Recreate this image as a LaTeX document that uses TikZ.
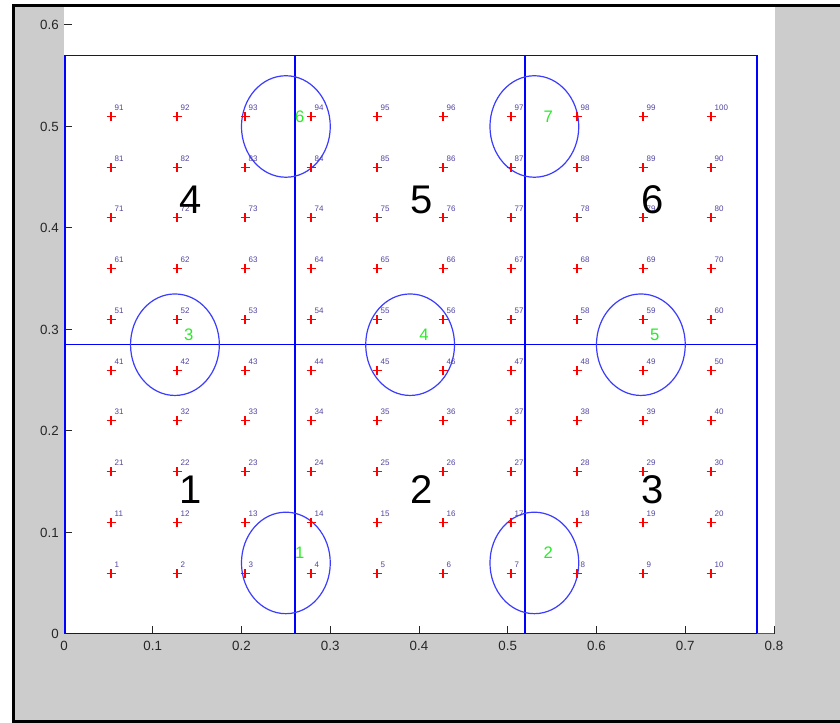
\documentclass[tikz,border=0pt]{standalone}
\usepackage{fontspec}
\setmainfont{Liberation Sans}
\usetikzlibrary{positioning}
\definecolor{figgrey}{RGB}{204,204,204}
\definecolor{lblblue}{RGB}{80,70,160}
\definecolor{ringblue}{RGB}{60,60,255}
\definecolor{taggreen}{RGB}{40,235,40}
\definecolor{markred}{RGB}{255,0,0}

\begin{document}
\begin{tikzpicture}[x=0.75pt, y=0.75pt,
  tickline/.style={line width=0.75pt, black!85},
  ticklbl/.style={inner sep=0pt, font=\fontsize{10}{12}\selectfont, text=black!85},
  part/.style={line width=1pt, blue},
  vpart/.style={line width=1.3pt, blue},
  ring/.style={line width=0.9pt, ringblue},
  plusmark/.style={line width=1pt, draw=markred},
  vplusmark/.style={line width=1.3pt, draw=markred},
  ptlbl/.style={inner sep=0pt, anchor=west, font=\fontsize{6}{7}\selectfont, text=lblblue},
  tag/.style={inner sep=0pt, anchor=west, font=\fontsize{12.5}{14}\selectfont, text=taggreen},
  region/.style={inner sep=0pt, anchor=west, font=\fontsize{30}{32}\selectfont},
]
\useasboundingbox (0,0) rectangle (840,723);
\fill[white] (0,0) rectangle (840,723);
\fill[figgrey] (15,3) rectangle (840,716);
\fill[black] (12,0) rectangle (15,719);
\fill[black] (12,716) rectangle (840,719);
\fill[black] (12,0) rectangle (840,3);
\fill[white] (64,89) rectangle (775,716);

% axes
\draw[line width=0.75pt, black!65] (64,89.5) -- (775,89.5);
\foreach \k in {0,...,8} {
  \pgfmathsetmacro{\tx}{floor(64+88.75*\k)+0.5}
  \draw[tickline] (\tx,89) -- ++(0,8);
  \node[ticklbl] (xt\k) at ({64+88.75*\k},77) {\ifnum\k=0 0\else 0.\k\fi};
}
\foreach \k in {0,...,6} {
  \pgfmathsetmacro{\ty}{floor(89+101.5*\k)+0.5}
  \draw[tickline] (64,\ty) -- ++(8,0);
  \node[ticklbl, anchor=east] (yt\k) at (59,{89+101.5*\k}) {\ifnum\k=0 0\else 0.\k\fi};
}

% partition
\coordinate (bl) at (65,89.5);
\coordinate (tr) at (757,667.5);
\draw[part] (64.5,89.5) -- (756.5,89.5);
\draw[part] (64.5,667.5) -- (756.5,667.5);
\draw[vpart] (bl) -- (bl |- tr);
\draw[vpart] (tr) -- (tr |- bl);
\draw[vpart] (295,89.5) -- (295,667.5);
\draw[vpart] (525,89.5) -- (525,667.5);
\draw[part] (64.5,378.5) -- (756.5,378.5);

% rings
\foreach \c/\cx/\cy in {1/0.25/0.07, 2/0.53/0.07, 3/0.125/0.285, 4/0.39/0.285,
                        5/0.65/0.285, 6/0.25/0.5, 7/0.53/0.5} {
  \coordinate (c\c) at ({64+887.5*\cx},{89+1015*\cy});
  \draw[ring] (c\c) ellipse [x radius=44.4, y radius=50.75];
}

% grid points
\foreach \j in {0,...,9} {
  \foreach \i in {0,...,9} {
    \pgfmathtruncatemacro{\n}{10*\j+\i+1}
    \pgfmathsetmacro{\px}{2*floor((64+887.5*(0.053+0.075*\i))/2)+1}
    \pgfmathsetmacro{\py}{floor(89+1015*(0.06+0.05*\j))+0.5}
    \coordinate (p\n) at (\px,\py);
    \draw[plusmark] ([xshift=-3.375pt]p\n) -- ([xshift=3.375pt]p\n);
    \draw[vplusmark] ([yshift=-3.375pt]p\n) -- ([yshift=3.375pt]p\n);
    \node[ptlbl, xshift=2.6pt, yshift=6.75pt] (l\n) at (p\n) {\n};
  }
}

\foreach \c/\cx/\cy in {1/0.25/0.07, 2/0.53/0.07, 3/0.125/0.285, 4/0.39/0.285,
                        5/0.65/0.285, 6/0.25/0.5, 7/0.53/0.5}
  \node[tag] (g\c) at ({64+887.5*(\cx+0.01)},{89+1015*(\cy+0.01)}) {\c};

\foreach \r/\rx/\ry in {1/0.13/0.1425, 2/0.39/0.1425, 3/0.65/0.1425,
                        4/0.13/0.4275, 5/0.39/0.4275, 6/0.65/0.4275}
  \node[region] (r\r) at ({64+887.5*\rx},{89+1015*\ry}) {\r};
\end{tikzpicture}
\end{document}
